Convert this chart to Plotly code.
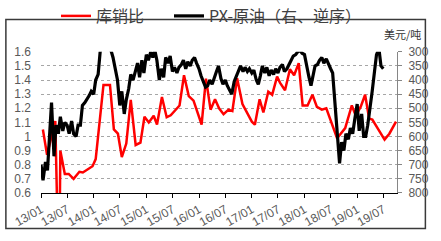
import plotly.graph_objects as go
import pandas as pd

# ---- data ----
red_dates = ["2013-01-14","2013-02-12","2013-04-10","2013-04-22","2013-05-12","2013-05-15",
             "2013-06-15","2013-07-12","2013-08-15","2013-09-24","2013-10-18","2013-11-21",
             "2013-12-24","2014-01-15","2014-03-10","2014-04-24","2014-05-21","2014-06-18",
             "2014-07-15","2014-08-15","2014-09-15","2014-10-19","2014-11-21","2014-12-19",
             "2015-01-18","2015-02-21","2015-03-16","2015-04-19","2015-05-22","2015-06-19",
             "2015-07-22","2015-08-19","2015-09-19","2015-10-22","2015-11-24","2016-01-19",
             "2016-02-18","2016-03-21","2016-04-21","2016-05-19","2016-06-19","2016-07-24",
             "2016-08-19","2016-09-21","2016-10-28","2017-01-01","2017-01-22","2017-02-24",
             "2017-03-22","2017-04-25","2017-05-22","2017-06-25","2017-07-16","2017-08-19",
             "2017-09-22","2017-10-21","2017-11-22","2017-12-19","2018-01-22","2018-02-25",
             "2018-03-28","2018-05-01","2018-06-01","2018-07-07","2018-08-15","2018-10-10",
             "2018-11-25","2018-12-22","2019-01-25","2019-02-25","2019-03-25","2019-04-16",
             "2019-06-22","2019-07-10","2019-08-12","2019-09-27"]
red_vals = [1.05,0.87,1.11,0.55,0.55,0.90,
            0.735,0.735,0.70,0.75,0.745,0.765,
            0.79,0.84,1.365,1.365,1.05,1.02,
            0.855,0.95,1.26,0.94,0.957,1.14,
            1.10,1.147,1.085,1.28,1.137,1.15,
            1.19,1.22,1.434,1.286,1.254,1.085,
            1.41,1.19,1.264,1.20,1.158,1.19,
            1.18,1.413,1.23,1.105,1.084,1.264,
            1.17,1.318,1.296,1.424,1.38,1.328,
            1.477,1.434,1.52,1.22,1.22,1.296,
            1.21,1.19,1.2,1.095,0.988,1.06,
            1.22,1.148,1.21,1.296,1.127,1.12,
            1.0,0.978,1.02,1.105]

# PX-原油 spread, two readings per month (1st and 15th), Jan 2013 .. Jun 2019
px_vals = [700,755, 690,720, 600,480, 670,560, 590,530, 580,550, 560,590, 545,590,
           600,560, 560,490, 480,470, 455,440, 450,400, 380,300, 280,290, 285,290,
           295,320, 370,400, 490,440, 520,470, 430,380, 400,370, 340,390, 330,375,
           310,330, 300,320, 295,330, 400,360, 390,320, 340,315, 370,355, 375,355,
           345,330, 360,335, 350,330, 320,340, 360,385, 405,425, 420,400, 415,390,
           370,350, 395,415, 400,420, 440,450, 405,385, 365,350, 370,355, 370,360,
           375,365, 400,415, 385,350, 375,355, 385,365, 380,360, 375,355, 345,370,
           360,345, 330,315, 310,300, 295,305, 310,350, 390,420, 380,350, 345,330,
           320,340, 325,345, 360,375, 480,600, 695,620, 650,590, 610,570, 590,540,
           485,580, 520,600, 600,560, 480,440, 370,310, 290,350, 360]
px_dates = pd.date_range("2013-01-01", periods=len(px_vals), freq="SMS")

left_ticks = [0.6,0.7,0.8,0.9,1.0,1.1,1.2,1.3,1.4,1.5,1.6]
right_ticks = [300,350,400,450,500,550,600,650,700,750,800]

W, H = 441, 241
L, R, T, B = 38, 33, 39, 45
pw, ph = W - L - R, H - T - B

def px_x(x):
    return (x - L) / pw

def px_y(y):
    return (H - B - y) / ph

fig = go.Figure()
fig.add_trace(go.Scatter(x=red_dates, y=red_vals, name="库销比", mode="lines",
                         line=dict(color="#ff0000", width=2.5), yaxis="y",
                         legend="legend"))
fig.add_trace(go.Scatter(x=px_dates, y=px_vals, name="PX-原油（右、逆序）", mode="lines",
                         line=dict(color="#000000", width=3.2), yaxis="y2",
                         legend="legend2"))

tickfont = dict(family="Liberation Sans, Arial", size=12, color="#595959")
legfont = dict(family="Noto Sans CJK SC", size=16, color="#404040")

fig.update_layout(
    width=W, height=H,
    margin=dict(l=L, r=R, t=T, b=B, pad=0),
    paper_bgcolor="white", plot_bgcolor="white",
    showlegend=True,
    legend=dict(orientation="h", xref="container", yref="container",
                x=56 / W, y=1 - 16 / H, xanchor="left", yanchor="middle",
                font=legfont, bgcolor="rgba(0,0,0,0)", itemwidth=30),
    legend2=dict(orientation="h", xref="container", yref="container",
                 x=169 / W, y=1 - 16 / H, xanchor="left", yanchor="middle",
                 font=legfont, bgcolor="rgba(0,0,0,0)", itemwidth=30),
    xaxis=dict(type="date", range=["2013-01-01", "2019-10-04"],
               tick0="2013-01-01", dtick="M6", tickformat="%y/%m", tickangle=-30,
               showgrid=False, zeroline=False, showline=True, linecolor="#000000",
               linewidth=1, ticks="outside", ticklen=4, tickcolor="#000000",
               tickfont=tickfont),
    yaxis=dict(range=[0.6, 1.6], tickvals=left_ticks, showgrid=True,
               gridcolor="#a6a6a6", griddash="3px,3px", gridwidth=1,
               zeroline=False, showline=False, ticks="", tickfont=tickfont,
               ticklabelstandoff=9),
    yaxis2=dict(range=[800, 300], tickvals=right_ticks, overlaying="y", side="right",
                showgrid=False, zeroline=False, showline=True, linecolor="#868686",
                linewidth=1, ticks="outside", ticklen=4, tickcolor="#868686",
                tickfont=tickfont, ticklabelstandoff=4),
    shapes=[dict(type="rect", xref="paper", yref="paper",
                 x0=px_x(1.5), x1=px_x(437.5), y0=px_y(235.5), y1=px_y(3),
                 line=dict(color="#3a3a3a", width=1.5), fillcolor="rgba(0,0,0,0)",
                 layer="below")],
    annotations=[dict(text="美元/吨", xref="paper", yref="paper", x=px_x(414), y=px_y(19),
                      xanchor="center", yanchor="middle", showarrow=False,
                      font=dict(family="Noto Sans CJK SC", size=11, color="#333333"))],
)

fig.write_html("out.html")
